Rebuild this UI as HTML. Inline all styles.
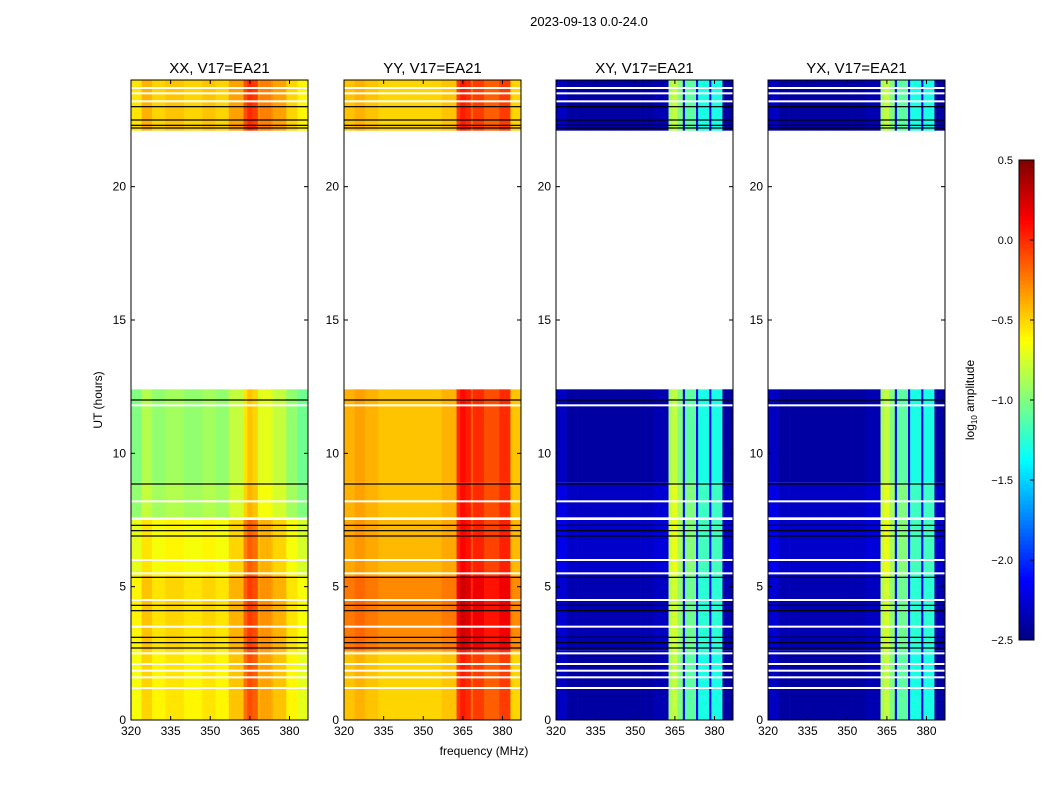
<!DOCTYPE html>
<html><head><meta charset="utf-8"><style>
body{margin:0;background:#fff;}
svg text{font-family:"Liberation Sans",sans-serif;}
</style></head><body>
<svg id="fig" width="1050" height="800" xmlns="http://www.w3.org/2000/svg">
<rect width="1050" height="800" fill="#fff"/>
<text x="589" y="26" font-size="13" text-anchor="middle">2023-09-13 0.0-24.0</text>
<text x="484" y="755" font-size="12" text-anchor="middle">frequency (MHz)</text>
<text transform="translate(102,400) rotate(-90)" font-size="12" text-anchor="middle">UT (hours)</text>
<g id="panels"></g>
<g id="cbar"></g>
</svg>
<script>
const panelTitles=["XX, V17=EA21","YY, V17=EA21","XY, V17=EA21","YX, V17=EA21"];
const freqEdges=[320,324,328,333,340,347,352,357,362.6,364,366,368,368.8,373,373.8,378,378.8,383,387];
const profXX=[-0.65,-0.5,-0.6,-0.55,-0.6,-0.55,-0.6,-0.45,-0.2,-0.1,-0.15,-0.4,-0.35,-0.4,-0.45,-0.45,-0.6,-0.7];
const profYY=[-0.45,-0.4,-0.45,-0.5,-0.5,-0.5,-0.5,-0.45,-0.05,0.05,0.0,-0.2,-0.05,-0.15,-0.15,-0.15,-0.05,-0.5];
const profXY=[-2.3,-2.4,-2.4,-2.4,-2.4,-2.4,-2.4,-2.35,-0.9,-0.8,-1.0,-2.2,-1.1,-2.2,-1.3,-2.2,-1.3,-2.4];
const profYX=[-2.3,-2.4,-2.4,-2.4,-2.4,-2.4,-2.4,-2.35,-0.9,-0.8,-1.0,-2.2,-1.1,-2.2,-1.3,-2.2,-1.3,-2.4];
const blockStart=[0,2.6,5.4,7.6,8.9,22.1];
const blockEnd=[2.6,5.4,7.5,8.9,12.4,24];
const offXX=[0,0.05,-0.05,-0.3,-0.35,0.1];
const offYY=[0,0.22,0.08,0.05,0.05,0];
const offXY=[0,0.05,0.12,0.1,0,0];
const offYX=[0,0.05,0.12,0.1,0,0];
const whiteLines=[1.2,1.6,1.85,2.1,2.5,3.5,4.5,5.5,6.0,7.55,8.2,11.8,23.2,23.5,23.7];
const blackLines=[2.7,2.9,3.1,4.1,4.3,5.35,6.9,7.1,7.3,8.85,12.0,22.2,22.3,22.5,23.0];
const xTicks=[320,335,350,365,380];
const yTicks=[0,5,10,15,20];
const cbTicks=[0.5,0.0,-0.5,-1.0,-1.5,-2.0,-2.5];
const profiles=[profXX,profYY,profXY,profYX];
const offsets=[offXX,offYY,offXY,offYX];
const panelLeft=[131,344,556,768];
const PW=177,TOP=80,BOT=720,FMIN=320,FMAX=387,HMAX=24,VMIN=-2.5,VMAX=0.5;
const NS="http://www.w3.org/2000/svg";
function jet(v){let t=(v-VMIN)/(VMAX-VMIN);t=Math.max(0,Math.min(1,t));
 const c=x=>Math.round(255*Math.max(0,Math.min(1,1.5-Math.abs(x))));
 return `rgb(${c(4*t-3)},${c(4*t-2)},${c(4*t-1)})`;}
function el(tag,attrs,parent){const e=document.createElementNS(NS,tag);for(const k in attrs)e.setAttribute(k,attrs[k]);parent.appendChild(e);return e;}
function yS(h){return BOT-(h/HMAX)*(BOT-TOP);}
const root=document.getElementById('panels');
panelLeft.forEach((L,p)=>{
 const xS=f=>L+(f-FMIN)/(FMAX-FMIN)*PW;
 const g=el('g',{},root);
 
 
 blockStart.forEach((bs,b)=>{
  for(let i=0;i<freqEdges.length-1;i++){
   const v=profiles[p][i]+offsets[p][b];
   const r=el('rect',{x:xS(freqEdges[i]),y:yS(blockEnd[b]),width:xS(freqEdges[i+1])-xS(freqEdges[i])+0.3,height:yS(bs)-yS(blockEnd[b]),fill:jet(v)},g);
   
   
  }
 });
 whiteLines.forEach(h=>{const r=el('rect',{x:L,y:yS(h)-1,width:PW,height:2,fill:'#fff'},g);
  
  });
 blackLines.forEach(h=>{const r=el('rect',{x:L,y:yS(h)-0.6,width:PW,height:1.2,fill:'#000'},g);
  
  });
 const fr=el('rect',{x:L,y:TOP,width:PW,height:BOT-TOP,fill:'none',stroke:'#000','stroke-width':1},g);
 
 
 const t=el('text',{x:L+PW/2,y:TOP-7,'font-size':15,'text-anchor':'middle'},g);t.textContent=panelTitles[p];
 
 
 xTicks.forEach(f=>{el('line',{x1:xS(f),x2:xS(f),y1:BOT,y2:BOT-4,stroke:'#000'},g);el('line',{x1:xS(f),x2:xS(f),y1:TOP,y2:TOP+4,stroke:'#000'},g);
  const tx=el('text',{x:xS(f),y:BOT+15,'font-size':12,'text-anchor':'middle'},g);tx.textContent=f;
  
  });
 yTicks.forEach(h=>{el('line',{x1:L,x2:L+4,y1:yS(h),y2:yS(h),stroke:'#000'},g);el('line',{x1:L+PW,x2:L+PW-4,y1:yS(h),y2:yS(h),stroke:'#000'},g);
  const ty=el('text',{x:L-5,y:yS(h)+4,'font-size':12,'text-anchor':'end'},g);ty.textContent=h;
  
  });
});
const cb=document.getElementById('cbar');


const CBX=1019,CBW=15,CBT=160,CBB=640;
const cyS=v=>CBB-(v-VMIN)/(VMAX-VMIN)*(CBB-CBT);
for(let i=0;i<120;i++){const v0=VMIN+i*(VMAX-VMIN)/120,v1=VMIN+(i+1)*(VMAX-VMIN)/120;
 el('rect',{x:CBX,y:cyS(v1),width:CBW,height:cyS(v0)-cyS(v1)+0.5,fill:jet((v0+v1)/2)},cb);}
el('rect',{x:CBX,y:CBT,width:CBW,height:CBB-CBT,fill:'none',stroke:'#000'},cb);
cbTicks.forEach(v=>{el('line',{x1:CBX+CBW,x2:CBX+CBW-4,y1:cyS(v),y2:cyS(v),stroke:'#000'},cb);
 const t=el('text',{x:1013,y:cyS(v)+4,'font-size':11,'text-anchor':'end'},cb);t.textContent=v.toFixed(1).replace('-','\u2212');
 
 });
const lab=el('text',{transform:'translate(974,400) rotate(-90)','font-size':12,'text-anchor':'middle'},cb);
lab.innerHTML='log<tspan font-size="8" dy="3">10</tspan><tspan dy="-3"> amplitude</tspan>';


</script>
</body></html>
